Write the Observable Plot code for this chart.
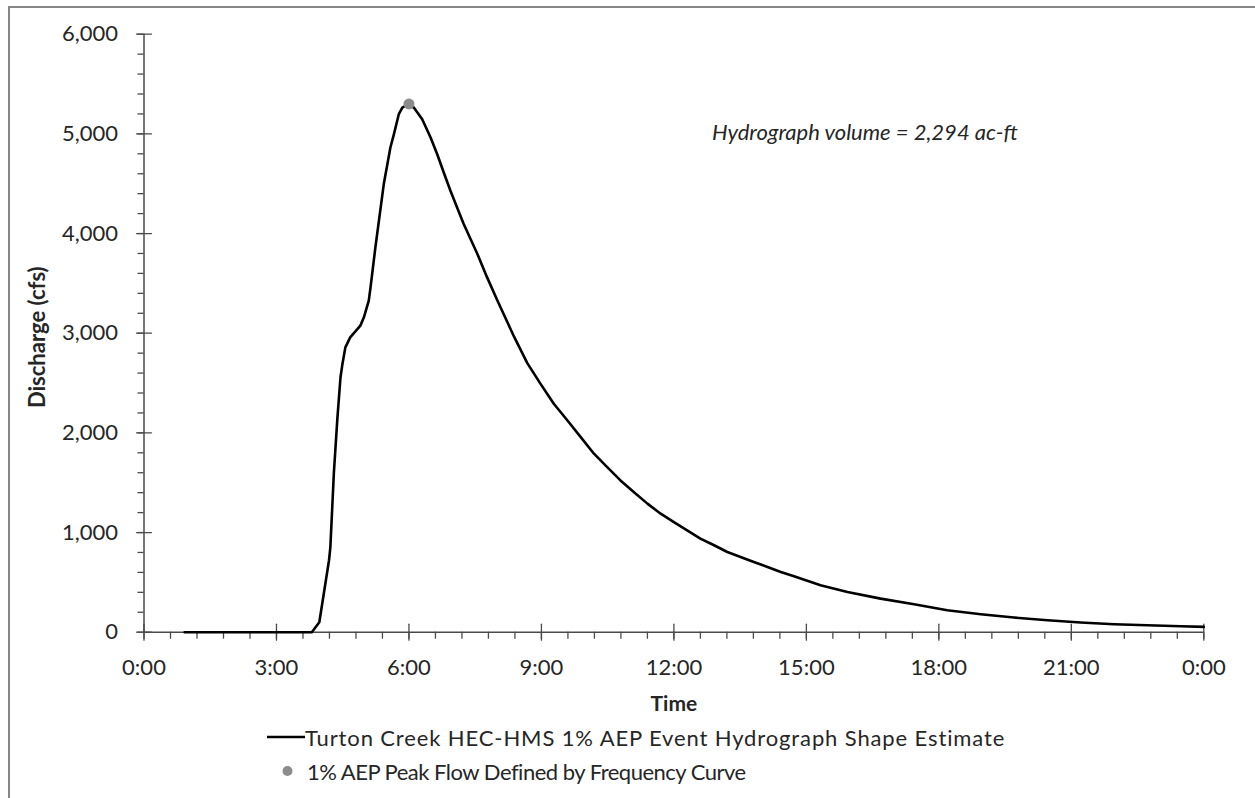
<!DOCTYPE html>
<html>
<head>
<meta charset="utf-8">
<script src="https://cdn.jsdelivr.net/npm/d3@7"></script>
<script src="https://cdn.jsdelivr.net/npm/@observablehq/plot@0.6"></script>
<style>
  html, body { margin: 0; padding: 0; background: #fff; overflow: hidden; }
  body { width: 1255px; height: 798px; position: relative; font-family: Lato, "Open Sans", sans-serif; color: #262626; }
  #frame { position: absolute; left: 8px; top: 6px; width: 1300px; height: 900px; border-left: 2px solid #878787; border-top: 2px solid #878787; pointer-events: none; }
  #chart { position: absolute; left: 0; top: 0; }
  #legend { position: absolute; left: 267px; top: 720px; font-size: 22px; }
  .row { display: flex; align-items: center; height: 34px; white-space: nowrap; }
  .row svg { display: block; flex: none; }
  #r1 span { letter-spacing: 0.88px; }
  #r2 span { letter-spacing: -0.5px; }
</style>
</head>
<body>
<div id="chart"></div>
<div id="legend"></div>
<div id="frame"></div>
<script>
// ---- data (hours since start, discharge in cfs) ----
const hours = [0.92, 3.80, 3.97, 4.19, 4.22, 4.30, 4.38, 4.45, 4.49, 4.56, 4.67, 4.90, 4.98, 5.09,
  5.13, 5.24, 5.36, 5.43, 5.58, 5.66, 5.77, 5.85, 5.96, 6.11, 6.30, 6.49, 6.64, 6.79, 6.94,
  7.09, 7.24, 7.40, 7.55, 7.77, 8.00, 8.23, 8.38, 8.68, 8.98, 9.28, 9.59, 9.89, 10.19, 10.49,
  10.79, 11.09, 11.40, 11.70, 12.00, 12.30, 12.60, 12.91, 13.21, 13.51, 13.81, 14.12, 14.42,
  14.72, 15.32, 15.93, 16.68, 17.44, 18.19, 18.95, 19.70, 20.46, 21.21, 21.97, 22.72, 23.48, 24.00];
const flow = [0, 0, 100, 722, 850, 1600, 2150, 2558, 2680, 2858, 2958, 3076, 3159, 3327,
  3460, 3861, 4262, 4496, 4863, 4997, 5197, 5264, 5290, 5264, 5147, 4963, 4796, 4610, 4429,
  4262, 4095, 3940, 3795, 3560, 3330, 3110, 2965, 2700, 2492, 2292, 2124, 1957, 1791, 1656,
  1523, 1406, 1290, 1189, 1105, 1022, 939, 872, 805, 755, 705, 655, 604,
  561, 471, 404, 337, 281, 220, 180, 147, 120, 97, 80, 70, 60, 53];
const peakHours = [6.0];
const peakFlow = [5300];
const xMajor = [0, 3, 6, 9, 12, 15, 18, 21, 24];
const xTickLabels = ["0:00", "3:00", "6:00", "9:00", "12:00", "15:00", "18:00", "21:00", "0:00"];
const xMinor = d3.range(0, 24.001, 0.6);
const yMajor = [0, 1000, 2000, 3000, 4000, 5000, 6000];
const yMinor = d3.range(0, 6001, 200);
const seriesNames = ["Turton Creek HEC-HMS 1% AEP Event Hydrograph Shape Estimate", "1% AEP Peak Flow Defined by Frequency Curve"];
const annotation = "Hydrograph volume = 2,294 ac-ft";

const hydro = hours.map((t, i) => ({t, q: flow[i]}));
const peak = peakHours.map((t, i) => ({t, q: peakFlow[i]}));

const axisColor = "#4a4a4a";
const textColor = "#262626";
const lineShape = { draw(ctx, l) { ctx.moveTo(0, 0); ctx.lineTo(0, -l); } };

const chart = Plot.plot({
  width: 1255,
  height: 722,
  marginLeft: 143.5,
  marginRight: 51.7,
  marginTop: 33.7,
  marginBottom: 90.3,
  style: { fontFamily: "Lato, 'Open Sans', sans-serif", fontSize: "22px", color: textColor, background: "transparent" },
  x: { domain: [0, 24], label: null },
  y: { domain: [0, 6000], label: null },
  marks: [
    Plot.axisX(xMinor, { tickSize: 7, text: null, stroke: axisColor, strokeWidth: 1.3, label: null }),
    Plot.axisX(xMajor, { tickSize: 0, tickPadding: 27, tickFormat: d => xTickLabels[xMajor.indexOf(d)], fontSize: 22, fill: textColor, label: null }),
    Plot.vector(xMajor, { x: d => d, y: 0, length: 16, anchor: "middle", shape: lineShape, stroke: axisColor, strokeWidth: 1.3 }),
    Plot.axisY(yMinor, { tickSize: 6, text: null, stroke: axisColor, strokeWidth: 1.3, label: null }),
    Plot.axisY(yMajor, { tickSize: 0, tickPadding: 26, tickFormat: d3.format(","), fontSize: 22, fill: textColor, label: null }),
    Plot.vector(yMajor, { x: 0, y: d => d, length: 15, rotate: 90, anchor: "middle", shape: lineShape, stroke: axisColor, strokeWidth: 1.3 }),
    Plot.ruleY([0], { stroke: axisColor, strokeWidth: 1.5 }),
    Plot.ruleX([0], { stroke: axisColor, strokeWidth: 1.5 }),
    Plot.line(hydro, { x: "t", y: "q", stroke: "#000", strokeWidth: 2.6, curve: "linear", strokeLinejoin: "round" }),
    Plot.dot(peak, { x: "t", y: "q", r: 5.5, fill: "#8c8c8c", stroke: "none" }),
    Plot.text([annotation], { frameAnchor: "top-right", textAnchor: "end", dx: -186, dy: 90, fontSize: 22, fontStyle: "italic", fill: textColor }),
    Plot.text(["Discharge (cfs)"], { frameAnchor: "left", textAnchor: "middle", rotate: -90, dx: -106.5, dy: 4, fontSize: 22, fontWeight: "bold", fill: textColor }),
    Plot.text(["Time"], { frameAnchor: "bottom", dy: 79, fontSize: 21, fontWeight: "bold", fill: textColor })
  ]
});
document.getElementById("chart").appendChild(chart);

// ---- legend ----
const legend = document.getElementById("legend");
const row1 = document.createElement("div");
row1.className = "row"; row1.id = "r1";
row1.innerHTML = `<svg width="38" height="34"><line x1="0" x2="38" y1="17" y2="17" stroke="#000" stroke-width="2.6"/></svg><span>${seriesNames[0]}</span>`;
const row2 = document.createElement("div");
row2.className = "row"; row2.id = "r2";
row2.innerHTML = `<svg width="40" height="34"><circle cx="20.5" cy="17" r="5" fill="#8c8c8c"/></svg><span>${seriesNames[1]}</span>`;
legend.appendChild(row1);
legend.appendChild(row2);
</script>
</body>
</html>
